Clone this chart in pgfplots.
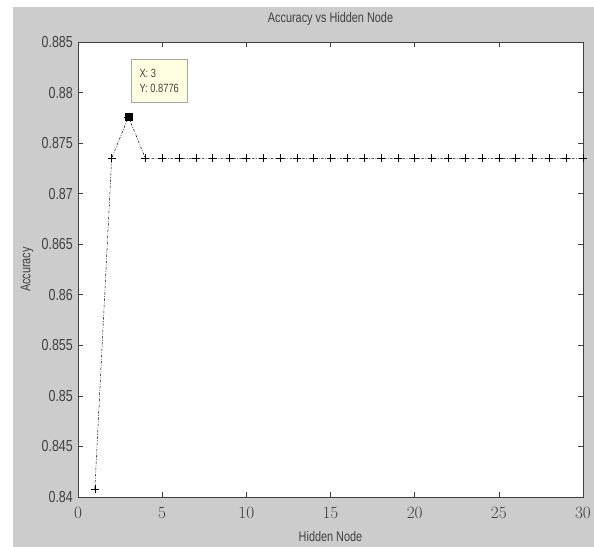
\documentclass[border=0pt]{standalone}
\usepackage{pgfplots}
\pgfplotsset{compat=1.18}
\usepackage{fontspec}
\setmainfont{Liberation Sans}
\newfontfamily\nf[FakeStretch=0.78]{Liberation Sans}
\definecolor{figgray}{gray}{0.8}
\definecolor{tipbg}{HTML}{FFFFE1}
\definecolor{axgray}{gray}{0.25}
\begin{document}
\begin{tikzpicture}
\fill[white] (-78bp,-50bp) rectangle (516bp,497bp);
\fill[figgray] (-65bp,-50bp) rectangle (516bp,490bp);
\begin{axis}[
  at={(0bp,0bp)}, anchor=south west,
  scale only axis, width=505bp, height=455bp,
  xmin=0, xmax=30, ymin=0.84, ymax=0.885,
  axis background/.style={fill=white},
  axis line style={axgray, line width=0.9pt},
  xtick={0,5,...,30},
  ytick={0.84,0.845,0.85,0.855,0.86,0.865,0.87,0.875,0.88,0.885},
  yticklabels={0.84,0.845,0.85,0.855,0.86,0.865,0.87,0.875,0.88,0.885},
  tick align=inside,
  major tick length=5bp,
  tick style={axgray, line width=0.6pt},
  xticklabel style={font=\nf\fontsize{16}{16}\selectfont, text=axgray, anchor=north, inner sep=0pt, yshift=-10bp},
  yticklabel style={font=\nf\fontsize{16}{16}\selectfont, text=axgray, anchor=east, inner sep=0pt, xshift=-5bp},
  title={Accuracy vs Hidden Node},
  title style={font=\nf\fontsize{14}{14}\selectfont, text=axgray, at={(0.5,1)}, anchor=center, yshift=17bp},
  xlabel={Hidden Node},
  xlabel style={font=\nf\fontsize{14}{14}\selectfont, text=axgray, at={(0.5,0)}, anchor=center, yshift=-40bp},
  ylabel={Accuracy},
  ylabel style={font=\nf\fontsize{14}{14}\selectfont, text=axgray, at={(axis description cs:-0.101,0.5)}, anchor=center},
  clip=false,
]
\addplot[black, line width=0.5pt, dash pattern=on 2.5pt off 1.5pt on 0.8pt off 1.5pt,
  mark=+, mark size=4bp, mark options={solid, line width=0.6pt}] coordinates {
(1,0.8408) (2,0.8735) (3,0.8776) (4,0.8735) (5,0.8735) (6,0.8735) (7,0.8735)
(8,0.8735) (9,0.8735) (10,0.8735) (11,0.8735) (12,0.8735) (13,0.8735) (14,0.8735)
(15,0.8735) (16,0.8735) (17,0.8735) (18,0.8735) (19,0.8735) (20,0.8735) (21,0.8735)
(22,0.8735) (23,0.8735) (24,0.8735) (25,0.8735) (26,0.8735) (27,0.8735) (28,0.8735)
(29,0.8735) (30,0.8735)
};
\addplot[only marks, mark=square*, mark size=3.5bp, mark options={fill=black, draw=black}] coordinates {(3,0.8776)};
\node[anchor=south west, draw=gray!70, fill=tipbg, minimum width=56bp, minimum height=43bp,
  inner sep=3bp, align=left, font=\nf\fontsize{12}{15}\selectfont, text=axgray]
  at (axis cs:3.15,0.879) {X: 3\\Y: 0.8776};
\end{axis}
\end{tikzpicture}
\end{document}
